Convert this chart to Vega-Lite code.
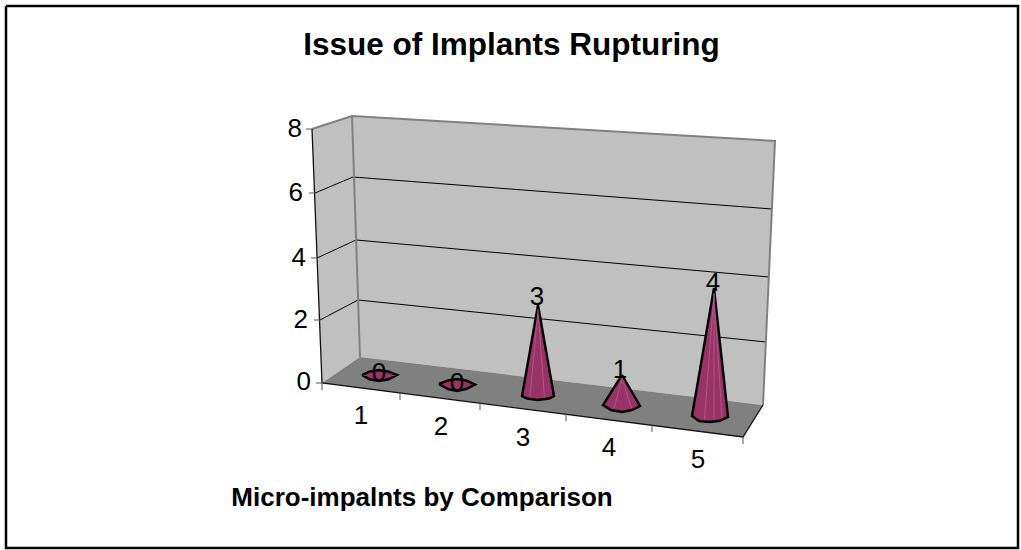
{"$schema":"https://vega.github.io/schema/vega-lite/v6.json","width":1021,"height":550,"padding":0,"autosize":{"type":"none"},"background":"white","view":{"stroke":null},
"title":{"text":"Issue of Implants Rupturing","font":"Liberation Sans","fontSize":31.5,"fontWeight":"bold","color":"black","anchor":"middle","baseline":"middle","offset":0,"dy":77,"dx":1},
"datasets":{
"frame":[{"p":"frame","i":0,"x":-3.65,"y":11.781},{"p":"frame","i":1,"x":9.0,"y":11.781},{"p":"frame","i":2,"x":9.0,"y":-5.156},{"p":"frame","i":3,"x":-3.65,"y":-5.156},{"p":"frame","i":4,"x":-3.65,"y":11.781}],
"walls":[{"p":"left wall","i":0,"x":0.175,"y":7.9375},{"p":"left wall","i":1,"x":0.675,"y":8.344},{"p":"left wall","i":2,"x":0.775,"y":0.8125},{"p":"left wall","i":3,"x":0.3,"y":0},
{"p":"back wall","i":0,"x":0.675,"y":8.344},{"p":"back wall","i":1,"x":5.9625,"y":7.5625},{"p":"back wall","i":2,"x":5.8125,"y":-0.6875},{"p":"back wall","i":3,"x":0.775,"y":0.8125}],
"floor":[{"p":"floor","i":0,"x":0.3,"y":0},{"p":"floor","i":1,"x":0.775,"y":0.8125},{"p":"floor","i":2,"x":5.8125,"y":-0.6875},{"p":"floor","i":3,"x":5.5625,"y":-1.6875}],
"grid":[{"p":"6","i":0,"x":0.2125,"y":5.9375},{"p":"6","i":1,"x":0.6875,"y":6.4375},{"p":"6","i":2,"x":5.925,"y":5.4375},
{"p":"4","i":0,"x":0.2375,"y":3.906},{"p":"4","i":1,"x":0.725,"y":4.469},{"p":"4","i":2,"x":5.8875,"y":3.3125},
{"p":"2","i":0,"x":0.275,"y":1.969},{"p":"2","i":1,"x":0.75,"y":2.594},{"p":"2","i":2,"x":5.85,"y":1.281}],
"grayEdges":[{"p":"a","i":0,"x":0.175,"y":7.9375},{"p":"a","i":1,"x":0.675,"y":8.344},{"p":"a","i":2,"x":5.9625,"y":7.5625},{"p":"a","i":3,"x":5.8125,"y":-0.6875},
{"p":"b","i":0,"x":0.675,"y":8.344},{"p":"b","i":1,"x":0.775,"y":0.8125}],
"blackEdges":[{"p":"a","i":0,"x":0.175,"y":7.9375},{"p":"a","i":1,"x":0.3,"y":0},{"p":"a","i":2,"x":5.5625,"y":-1.6875},{"p":"a","i":3,"x":5.8125,"y":-0.6875}],
"ticks":[{"x":0.1,"y":7.9375,"x2":0.175,"y2":7.9375},{"x":0.1375,"y":5.9375,"x2":0.2125,"y2":5.9375},{"x":0.1625,"y":3.906,"x2":0.2375,"y2":3.906},{"x":0.2,"y":1.969,"x2":0.275,"y2":1.969},{"x":0.225,"y":0,"x2":0.3,"y2":0},
{"x":0.3,"y":0,"x2":0.3,"y2":-0.219},{"x":1.275,"y":-0.3125,"x2":1.275,"y2":-0.531},{"x":2.275,"y":-0.625,"x2":2.275,"y2":-0.844},{"x":3.35,"y":-0.969,"x2":3.35,"y2":-1.188},{"x":4.425,"y":-1.3125,"x2":4.425,"y2":-1.531},{"x":5.5625,"y":-1.6875,"x2":5.5625,"y2":-1.906}],
"cones":[
{"category":1,"value":0,"i":0,"x":0.8,"y":0.25},{"category":1,"value":0,"i":1,"x":0.9,"y":0.359},{"category":1,"value":0,"i":2,"x":1.0125,"y":0.406},{"category":1,"value":0,"i":3,"x":1.125,"y":0.359},{"category":1,"value":0,"i":4,"x":1.2375,"y":0.25},{"category":1,"value":0,"i":5,"x":1.125,"y":0.109},{"category":1,"value":0,"i":6,"x":1.0125,"y":0.0625},{"category":1,"value":0,"i":7,"x":0.9,"y":0.109},{"category":1,"value":0,"i":8,"x":0.8,"y":0.25},
{"category":2,"value":0,"i":0,"x":1.7625,"y":-0.031},{"category":2,"value":0,"i":1,"x":1.875,"y":0.078},{"category":2,"value":0,"i":2,"x":1.9875,"y":0.125},{"category":2,"value":0,"i":3,"x":2.1,"y":0.078},{"category":2,"value":0,"i":4,"x":2.2125,"y":-0.047},{"category":2,"value":0,"i":5,"x":2.1,"y":-0.1875},{"category":2,"value":0,"i":6,"x":1.9875,"y":-0.25},{"category":2,"value":0,"i":7,"x":1.875,"y":-0.1875},{"category":2,"value":0,"i":8,"x":1.7625,"y":-0.031},
{"category":3,"value":3,"i":0,"x":3,"y":2.4375},{"category":3,"value":3,"i":1,"x":3.2,"y":-0.406},{"category":3,"value":3,"i":2,"x":3.1375,"y":-0.484},{"category":3,"value":3,"i":3,"x":3,"y":-0.531},{"category":3,"value":3,"i":4,"x":2.8625,"y":-0.484},{"category":3,"value":3,"i":5,"x":2.8,"y":-0.406},{"category":3,"value":3,"i":6,"x":3,"y":2.4375},
{"category":4,"value":1,"i":0,"x":4.05,"y":0.25},{"category":4,"value":1,"i":1,"x":4.275,"y":-0.719},{"category":4,"value":1,"i":2,"x":4.175,"y":-0.844},{"category":4,"value":1,"i":3,"x":4.05,"y":-0.906},{"category":4,"value":1,"i":4,"x":3.9125,"y":-0.844},{"category":4,"value":1,"i":5,"x":3.8125,"y":-0.6875},{"category":4,"value":1,"i":6,"x":4.05,"y":0.25},
{"category":5,"value":4,"i":0,"x":5.2,"y":2.969},{"category":5,"value":4,"i":1,"x":5.375,"y":-1.0625},{"category":5,"value":4,"i":2,"x":5.2625,"y":-1.1875},{"category":5,"value":4,"i":3,"x":5.1375,"y":-1.219},{"category":5,"value":4,"i":4,"x":5.0125,"y":-1.1875},{"category":5,"value":4,"i":5,"x":4.925,"y":-1.031},{"category":5,"value":4,"i":6,"x":5.2,"y":2.969}],
"stripes":[{"p":"c3a","i":0,"x":3,"y":2.3},{"p":"c3a","i":1,"x":2.9,"y":-0.45},{"p":"c3b","i":0,"x":3,"y":2.3},{"p":"c3b","i":1,"x":3.08,"y":-0.45},
{"p":"c4a","i":0,"x":4.05,"y":0.15},{"p":"c4a","i":1,"x":3.95,"y":-0.8},{"p":"c4b","i":0,"x":4.05,"y":0.15},{"p":"c4b","i":1,"x":4.17,"y":-0.8},
{"p":"c5a","i":0,"x":5.2,"y":2.8},{"p":"c5a","i":1,"x":5.08,"y":-1.15},{"p":"c5b","i":0,"x":5.2,"y":2.8},{"p":"c5b","i":1,"x":5.2,"y":-1.15},{"p":"c5c","i":0,"x":5.2,"y":2.8},{"p":"c5c","i":1,"x":5.3,"y":-1.1}],
"dataLabels":[{"t":"0","x":1.0125,"y":0.3125},{"t":"0","x":1.9875,"y":0},{"t":"3","x":2.9875,"y":2.672},{"t":"1","x":4.025,"y":0.406},{"t":"4","x":5.1875,"y":3.125},
{"t":"1","x":0.7875,"y":-1.031},{"t":"2","x":1.7875,"y":-1.375},{"t":"3","x":2.8125,"y":-1.719},{"t":"4","x":3.8875,"y":-2.031},{"t":"5","x":5,"y":-2.406}],
"yLabels":[{"t":"8","x":0.05,"y":7.9375},{"t":"6","x":0.0625,"y":5.9375},{"t":"4","x":0.1,"y":3.906},{"t":"2","x":0.125,"y":1.969},{"t":"0","x":0.1625,"y":0.031}],
"xTitle":[{"t":"Micro-impalnts by Comparison","x":1.55,"y":-3.594}]
},
"encoding":{"x":{"field":"x","type":"quantitative","axis":null,"scale":{"domain":[-3.725,9.0375],"nice":false,"zero":false}},"y":{"field":"y","type":"quantitative","axis":null,"scale":{"domain":[-5.21875,11.96875],"nice":false,"zero":false}}},
"layer":[
{"data":{"name":"frame"},"mark":{"type":"line","stroke":"black","strokeWidth":2.5,"clip":false},"encoding":{"order":{"field":"i"}}},
{"data":{"name":"walls"},"mark":{"type":"line","fill":"#C0C0C0","strokeWidth":0},"encoding":{"detail":{"field":"p"},"order":{"field":"i"}}},
{"data":{"name":"floor"},"mark":{"type":"line","fill":"#808080","strokeWidth":0},"encoding":{"order":{"field":"i"}}},
{"data":{"name":"grid"},"mark":{"type":"line","stroke":"black","strokeWidth":1},"encoding":{"detail":{"field":"p"},"order":{"field":"i"}}},
{"data":{"name":"grayEdges"},"mark":{"type":"line","stroke":"#808080","strokeWidth":2},"encoding":{"detail":{"field":"p"},"order":{"field":"i"}}},
{"data":{"name":"blackEdges"},"mark":{"type":"line","stroke":"#111111","strokeWidth":1.3},"encoding":{"order":{"field":"i"}}},
{"data":{"name":"ticks"},"mark":{"type":"rule","stroke":"#555555","strokeWidth":1},"encoding":{"x2":{"field":"x2"},"y2":{"field":"y2"}}},
{"data":{"name":"cones"},"mark":{"type":"line","fill":"#993366","stroke":"black","strokeWidth":2.4},"encoding":{"detail":{"field":"category"},"order":{"field":"i"}}},
{"data":{"name":"stripes"},"mark":{"type":"line","stroke":"#C77BA4","strokeWidth":0.7,"opacity":0.7},"encoding":{"detail":{"field":"p"},"order":{"field":"i"}}},
{"data":{"name":"dataLabels"},"mark":{"type":"text","font":"Liberation Sans","fontSize":26,"color":"black","align":"center","baseline":"middle"},"encoding":{"text":{"field":"t"}}},
{"data":{"name":"yLabels"},"mark":{"type":"text","font":"Liberation Sans","fontSize":26,"color":"black","align":"right","baseline":"middle"},"encoding":{"text":{"field":"t"}}},
{"data":{"name":"xTitle"},"mark":{"type":"text","font":"Liberation Sans","fontSize":26,"fontWeight":"bold","color":"black","align":"center","baseline":"middle"},"encoding":{"text":{"field":"t"}}}
]}
